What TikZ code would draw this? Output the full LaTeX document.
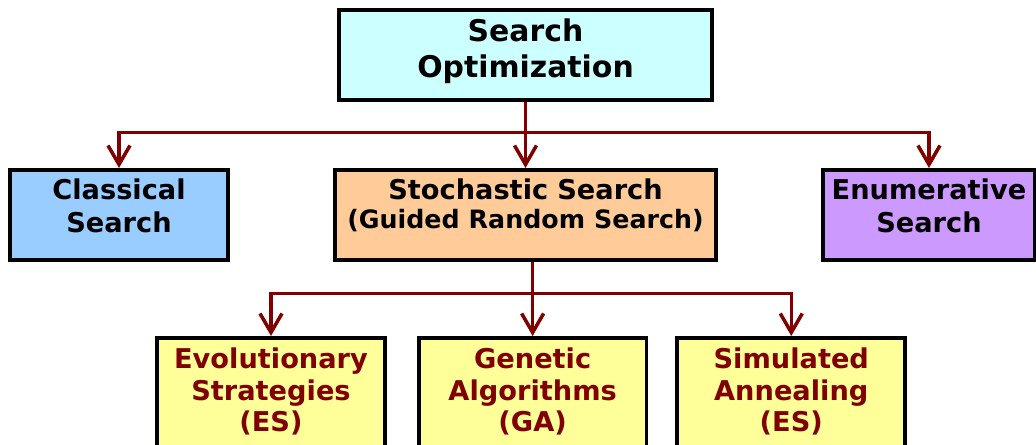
\documentclass[tikz,border=0pt]{standalone}
\usepackage{fontspec}
\setmainfont{DejaVu Sans}
\usetikzlibrary{arrows.meta,positioning}
\definecolor{maroon}{RGB}{128,0,0}
\definecolor{topcol}{RGB}{204,255,255}
\definecolor{classcol}{RGB}{153,204,255}
\definecolor{stochcol}{RGB}{255,204,153}
\definecolor{enumcol}{RGB}{204,153,255}
\definecolor{lowcol}{RGB}{255,255,153}

\begin{document}
\begin{tikzpicture}[x=0.02cm, y=-0.02cm,
  box/.style={draw, line width=2.1pt, inner sep=0pt, align=center},
  topbox/.style={box, fill=topcol, minimum width=7.46cm, text width=7.2cm, text height=0.64cm, text depth=1.16cm, font=\bfseries\fontsize{17}{20.4}\selectfont},
  midbox/.style={box, text height=0.6cm, text depth=1.2cm, font=\bfseries\fontsize{15.5}{18.5}\selectfont},
  lowbox/.style={box, fill=lowcol, text=maroon, minimum width=4.56cm, text width=4.4cm, text height=0.62cm, text depth=1.66cm, font=\bfseries\fontsize{15.5}{17.8}\selectfont},
  link/.style={draw=maroon, line width=2pt, -{Straight Barb[length=3.8mm,width=4.4mm]}}]
\useasboundingbox (0,0) rectangle (1036,445);

\node[topbox, anchor=north] (opt) at (525.5,8) {Search\\Optimization};

\node[midbox, fill=classcol, minimum width=4.36cm, text width=4cm, anchor=north] (classic) at (119,168) {Classical\\Search};
\node[midbox, fill=stochcol, minimum width=7.62cm, text width=7.4cm, anchor=north] (stoch) at (525.5,168) {Stochastic Search\\[-2pt]{\fontsize{14.4}{16.4}\selectfont (Guided Random Search)}};
\node[midbox, fill=enumcol, minimum width=4.24cm, text width=4.1cm, anchor=north] (enum) at (929,168) {Enumerative\\Search};

\node[lowbox, anchor=north] (evo) at (271,336) {Evolutionary\\Strategies\\(ES)};
\node[lowbox, right=0.6cm of evo] (gen) {Genetic\\Algorithms\\(GA)};
\node[lowbox, right=0.54cm of gen] (anneal) {Simulated\\Annealing\\(ES)};

\draw[link] (opt.south) -- (stoch.north);
\draw[link] (opt.south) -- ++(0,31) -| (classic.north);
\draw[link] (opt.south) -- ++(0,31) -| (enum.north);
\draw[link] (gen.north |- stoch.south) -- ++(0,32) -| (evo.north);
\draw[link] (gen.north |- stoch.south) -- ++(0,32) -| (anneal.north);
\draw[link] (gen.north |- stoch.south) -- (gen.north);
\end{tikzpicture}
\end{document}
